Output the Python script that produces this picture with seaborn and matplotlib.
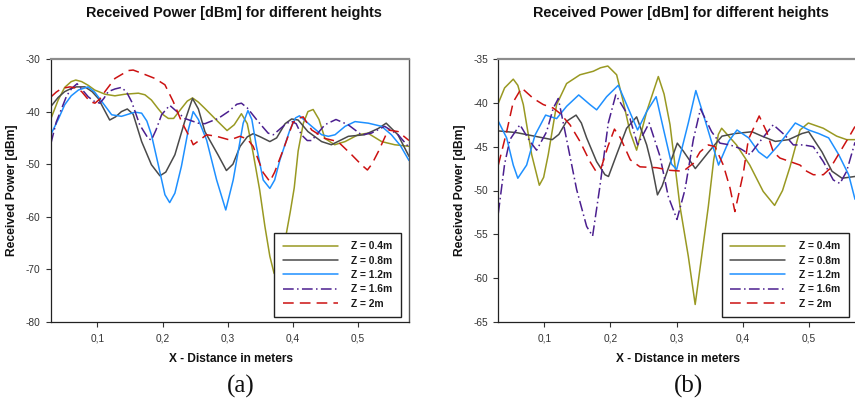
import matplotlib
matplotlib.use("Agg")
import matplotlib.pyplot as plt
from matplotlib.ticker import FuncFormatter, FixedLocator
import seaborn as sns
import pandas as pd

# ---------------- data: panel (a) ----------------
xa_04 = [0.029,0.040,0.050,0.060,0.067,0.076,0.086,0.096,0.112,0.127,0.142,0.163,0.173,0.183,0.193,0.201,0.209,0.217,0.229,0.238,0.246,0.255,0.265,0.285,0.299,0.310,0.321,0.330,0.339,0.349,0.357,0.3646,0.371,0.378,0.385,0.390,0.396,0.402,0.408,0.416,0.423,0.431,0.440,0.449,0.464,0.480,0.500,0.515,0.536,0.556,0.578]
ya_04 = [-41.3,-37.8,-35.4,-34.3,-34.0,-34.3,-35.0,-35.9,-36.7,-37.0,-36.7,-36.5,-36.8,-37.8,-39.4,-40.6,-41.3,-41.3,-39.4,-38.0,-37.4,-38.2,-39.4,-41.9,-43.6,-42.5,-40.4,-42.3,-47.9,-54.9,-61.8,-67.5,-70.7,-72.0,-68.0,-63.1,-59.0,-54.5,-47.5,-42.2,-40.0,-39.6,-41.5,-45.1,-46.3,-45.7,-44.4,-44.1,-45.7,-46.3,-46.6]

xa_08 = [0.029,0.040,0.050,0.060,0.068,0.081,0.092,0.1015,0.110,0.119,0.128,0.137,0.146,0.155,0.168,0.183,0.196,0.205,0.219,0.234,0.246,0.255,0.265,0.285,0.298,0.308,0.319,0.330,0.339,0.350,0.3646,0.375,0.388,0.398,0.408,0.423,0.444,0.459,0.485,0.510,0.531,0.543,0.561,0.578]
ya_08 = [-39.0,-37.3,-36.2,-35.6,-35.3,-35.3,-36.2,-37.5,-39.5,-41.6,-41.0,-40.0,-39.5,-40.5,-45.7,-50.1,-52.2,-51.5,-48.2,-41.9,-37.5,-39.5,-43.8,-48.2,-51.2,-50.0,-46.6,-44.8,-44.2,-44.8,-45.7,-45.0,-42.3,-41.4,-41.6,-43.8,-45.7,-46.3,-44.7,-44.4,-43.2,-42.2,-44.4,-48.5]

xa_12 = [0.029,0.040,0.050,0.060,0.071,0.086,0.096,0.107,0.122,0.137,0.150,0.158,0.168,0.176,0.183,0.1935,0.2037,0.211,0.219,0.229,0.2395,0.247,0.255,0.2676,0.283,0.297,0.3084,0.3237,0.331,0.337,0.344,0.3544,0.3646,0.372,0.380,0.3953,0.404,0.410,0.4288,0.444,0.4544,0.4646,0.480,0.4952,0.5156,0.536,0.551,0.565,0.578]
ya_12 = [-44.3,-41.5,-38.7,-37.0,-35.9,-35.3,-36.3,-38.1,-40.6,-40.9,-40.4,-40.1,-40.3,-41.8,-44.4,-50.1,-55.8,-57.3,-55.5,-50.4,-43.5,-40.0,-41.5,-45.4,-53.0,-58.7,-53.0,-42.2,-39.8,-41.5,-46.6,-53.0,-54.6,-53.0,-49.2,-43.5,-41.2,-40.8,-42.8,-44.4,-44.7,-44.4,-42.8,-41.9,-42.2,-42.8,-44.4,-46.5,-49.3]

xa_16 = [0.029,0.037,0.0453,0.053,0.0607,0.069,0.078,0.0862,0.096,0.104,0.110,0.1168,0.127,0.137,0.145,0.1526,0.165,0.178,0.183,0.190,0.1986,0.211,0.222,0.234,0.2548,0.265,0.2854,0.301,0.314,0.321,0.330,0.3467,0.362,0.370,0.3876,0.397,0.405,0.413,0.422,0.4288,0.449,0.466,0.4847,0.505,0.5202,0.5406,0.5613,0.578]
ya_16 = [-46.0,-42.0,-39.4,-37.0,-35.6,-34.7,-36.0,-37.2,-38.1,-38.4,-37.5,-36.2,-35.7,-35.4,-36.3,-38.1,-42.5,-45.1,-45.4,-43.5,-40.6,-38.8,-40.0,-41.3,-42.2,-42.3,-41.3,-40.0,-38.6,-38.4,-39.3,-41.9,-44.1,-44.4,-42.5,-41.8,-42.3,-44.4,-45.5,-45.5,-42.5,-41.5,-42.5,-44.4,-44.1,-42.8,-44.4,-46.8]

xa_20 = [0.029,0.037,0.0453,0.058,0.067,0.076,0.0888,0.0964,0.104,0.1117,0.127,0.1475,0.155,0.168,0.1884,0.2037,0.2165,0.2292,0.2446,0.2471,0.255,0.2676,0.283,0.3033,0.3187,0.330,0.339,0.3544,0.3646,0.372,0.385,0.400,0.408,0.4157,0.4288,0.449,0.469,0.490,0.505,0.5142,0.521,0.531,0.546,0.5613,0.578]
ya_20 = [-37.2,-36.3,-35.6,-35.3,-35.5,-36.2,-38.1,-38.4,-37.6,-36.2,-33.7,-32.2,-32.1,-32.7,-33.7,-34.9,-38.1,-41.9,-45.6,-46.3,-45.6,-44.4,-44.7,-45.4,-44.7,-45.2,-46.6,-51.6,-53.3,-51.5,-47.3,-42.1,-41.3,-41.0,-43.5,-45.1,-45.7,-48.2,-50.1,-51.1,-50.0,-47.6,-43.5,-43.8,-45.5]

# ---------------- data: panel (b) ----------------
xb_04 = [0.0305,0.040,0.0531,0.060,0.0683,0.0809,0.0925,0.099,0.106,0.1186,0.1337,0.1539,0.174,0.185,0.196,0.2093,0.2194,0.2295,0.2395,0.2547,0.2723,0.281,0.290,0.305,0.3176,0.328,0.3378,0.3479,0.356,0.363,0.368,0.3904,0.4105,0.4307,0.448,0.460,0.4713,0.4864,0.499,0.5216,0.5418,0.5569,0.5695]
yb_04 = [-40.05,-38.3,-37.3,-38.0,-40.2,-45.9,-49.4,-48.5,-45.9,-40.2,-37.8,-36.8,-36.4,-36.0,-35.8,-36.8,-39.9,-43.3,-45.4,-41.0,-37.0,-39.0,-42.5,-51.8,-57.5,-63.0,-57.5,-51.8,-46.5,-43.6,-42.9,-44.8,-47.1,-50.1,-51.7,-50.0,-47.3,-43.1,-42.3,-42.9,-43.8,-44.2,-44.2]

xb_08 = [0.0305,0.0582,0.0783,0.0985,0.112,0.122,0.1337,0.148,0.156,0.164,0.179,0.1917,0.197,0.2093,0.2244,0.2395,0.2547,0.262,0.271,0.278,0.290,0.301,0.310,0.3282,0.3484,0.3685,0.3886,0.4138,0.4289,0.4491,0.4692,0.4894,0.4995,0.5196,0.5347,0.5499,0.5695]
yb_08 = [-43.2,-43.4,-43.7,-44.0,-44.2,-43.6,-42.1,-41.4,-42.3,-44.0,-46.7,-48.2,-48.4,-45.9,-42.9,-41.6,-44.8,-47.0,-50.5,-49.5,-46.9,-44.6,-45.5,-47.5,-45.6,-43.8,-43.5,-43.3,-43.8,-44.4,-44.2,-43.5,-43.3,-45.6,-47.8,-48.6,-48.4]

xb_12 = [0.0305,0.0431,0.0531,0.060,0.0733,0.0859,0.1020,0.1186,0.1337,0.152,0.169,0.1791,0.1942,0.2118,0.2244,0.241,0.2547,0.269,0.2798,0.2924,0.300,0.3176,0.329,0.3434,0.3585,0.3633,0.3786,0.3912,0.4088,0.4239,0.4365,0.4541,0.4793,0.4995,0.5146,0.5297,0.5448,0.5599,0.5695]
yb_12 = [-42.1,-44.0,-47.1,-48.6,-47.1,-43.7,-41.4,-41.8,-40.4,-39.1,-40.2,-40.8,-39.3,-38.0,-40.2,-43.1,-41.0,-39.3,-42.9,-47.0,-47.6,-42.3,-38.6,-42.1,-45.9,-47.1,-44.4,-43.1,-44.0,-45.6,-46.3,-44.8,-42.3,-43.1,-43.5,-44.0,-45.9,-48.2,-51.0]

xb_16 = [0.0305,0.040,0.048,0.0632,0.0783,0.0884,0.1035,0.1136,0.1212,0.1338,0.1489,0.164,0.173,0.1841,0.1967,0.208,0.2295,0.241,0.2585,0.2748,0.2874,0.3005,0.3126,0.3252,0.336,0.3529,0.3655,0.3806,0.3957,0.4108,0.4259,0.446,0.4637,0.4763,0.4914,0.5065,0.5216,0.5367,0.5468,0.5569,0.5695]
yb_16 = [-52.6,-47.0,-44.2,-42.5,-44.4,-45.4,-43.3,-40.6,-39.5,-44.2,-49.9,-54.1,-55.2,-49.5,-42.3,-39.1,-41.8,-44.8,-42.3,-46.1,-50.7,-53.3,-49.9,-44.2,-40.7,-43.3,-44.6,-44.8,-45.2,-45.9,-44.4,-42.5,-43.7,-44.8,-44.8,-45.0,-46.7,-48.8,-49.2,-47.8,-44.5]

xb_20 = [0.0305,0.0431,0.0531,0.0657,0.0834,0.0985,0.1136,0.1237,0.1388,0.1539,0.169,0.178,0.186,0.196,0.206,0.215,0.230,0.2446,0.2698,0.290,0.310,0.3252,0.3353,0.3479,0.358,0.3705,0.3806,0.388,0.4008,0.4083,0.4247,0.436,0.446,0.4561,0.4713,0.4864,0.4965,0.5065,0.5216,0.5317,0.5468,0.5619,0.5695]
yb_20 = [-47.1,-43.3,-39.9,-38.3,-39.5,-40.2,-40.6,-41.2,-42.5,-44.4,-46.7,-47.8,-47.4,-45.0,-43.0,-44.0,-46.5,-47.3,-47.4,-47.7,-47.8,-46.9,-45.6,-44.8,-45.0,-47.1,-49.7,-52.4,-48.0,-44.2,-41.5,-43.3,-45.6,-46.3,-46.7,-47.1,-47.8,-48.2,-48.2,-47.5,-45.6,-43.7,-42.7]

labels = ["Z = 0.4m", "Z = 0.8m", "Z = 1.2m", "Z = 1.6m", "Z = 2m"]
x_ticks = [0.1, 0.2, 0.3, 0.4, 0.5]
ya_ticks = [-30, -40, -50, -60, -70, -80]
yb_ticks = [-35, -40, -45, -50, -55, -60, -65]
title_text = "Received Power [dBm] for different heights"
xlabel_text = "X - Distance in meters"
ylabel_text = "Received Power [dBm]"

colors = {"Z = 0.4m": "#999922", "Z = 0.8m": "#4a4a4a", "Z = 1.2m": "#1e90ff",
          "Z = 1.6m": "#4b1f8f", "Z = 2m": "#cc1111"}
dashes = {"Z = 0.4m": "", "Z = 0.8m": "", "Z = 1.2m": "",
          "Z = 1.6m": (7, 2.2, 1, 2.2), "Z = 2m": (7, 4)}


def long_df(xs, ys):
    frames = []
    for lab, x, y in zip(labels, xs, ys):
        frames.append(pd.DataFrame({"x": x, "y": y, "Z": lab}))
    return pd.concat(frames, ignore_index=True)


df_a = long_df([xa_04, xa_08, xa_12, xa_16, xa_20], [ya_04, ya_08, ya_12, ya_16, ya_20])
df_b = long_df([xb_04, xb_08, xb_12, xb_16, xb_20], [yb_04, yb_08, yb_12, yb_16, yb_20])

sns.set_style("white")
plt.rcParams["font.family"] = ["Liberation Sans", "DejaVu Sans"]

W, H = 855, 401
fig = plt.figure(figsize=(W / 100, H / 100), dpi=100)

ax_a = fig.add_axes([51 / W, (H - 322) / H, (409 - 51) / W, (322 - 59) / H])
ax_b = fig.add_axes([498.3 / W, (H - 322) / H, (W - 498.3) / W, (322 - 59) / H])


def draw(ax, df, xlim, ylim, yticks, legend_left, hide_right):
    sns.lineplot(data=df, x="x", y="y", hue="Z", style="Z", palette=colors,
                 dashes=dashes, hue_order=labels, style_order=labels,
                 errorbar=None, sort=False, linewidth=1.1, ax=ax, legend=False)
    ax.set_xlim(*xlim)
    ax.set_ylim(*ylim)
    ax.xaxis.set_major_locator(FixedLocator(x_ticks))
    ax.yaxis.set_major_locator(FixedLocator(yticks))
    ax.xaxis.set_major_formatter(FuncFormatter(lambda v, p: f"{v:.1f}".replace(".", ",")))
    ax.yaxis.set_major_formatter(FuncFormatter(lambda v, p: f"{int(round(v))}"))
    ax.tick_params(axis="both", which="major", direction="out", length=3.5, width=0.8,
                   labelsize=7.3, colors="#333333", pad=5, left=True, bottom=True)
    ax.tick_params(axis="y", pad=4)
    ax.set_xlabel("")
    ax.set_ylabel("")
    ax.grid(False)
    for side in ["left", "bottom"]:
        ax.spines[side].set_color("#222222")
        ax.spines[side].set_linewidth(0.9)
    ax.spines["top"].set_color("#8c8c8c")
    ax.spines["top"].set_linewidth(1.6)
    ax.spines["right"].set_color("#555555")
    ax.spines["right"].set_linewidth(1.0)
    ax.spines["right"].set_visible(not hide_right)

    handles = ax.get_lines()[:5]
    leg = ax.legend(handles, labels, loc="upper left",
                    bbox_to_anchor=(legend_left / W, (H - 232.7) / H),
                    bbox_transform=fig.transFigure, borderaxespad=0,
                    frameon=True, fancybox=False, framealpha=1, edgecolor="#222222",
                    prop={"size": 7.4, "weight": "bold"}, handlelength=5.35,
                    handletextpad=1.3, labelspacing=0.42, borderpad=0.85)
    leg.get_frame().set_linewidth(1.0)
    for t in leg.get_texts():
        t.set_color("#1a1a1a")
    leg.set_zorder(10)


draw(ax_a, df_a, (0.029, 0.578), (-80, -30), ya_ticks, 274.3, False)
draw(ax_b, df_b, (0.0305, 0.5695), (-65, -35), yb_ticks, 721.7, True)

for cx in (234, 681):
    fig.text(cx / W, (H - 13.5) / H, title_text, ha="center", va="center",
             fontsize=10.4, fontweight="bold", color="#111111")
for cx in (231, 678):
    fig.text(cx / W, (H - 359) / H, xlabel_text, ha="center", va="center",
             fontsize=8.6, fontweight="bold", color="#111111")
for cx in (12.5, 460):
    fig.text(cx / W, (H - 190) / H, ylabel_text, ha="center", va="center",
             rotation=90, fontsize=8.7, fontweight="bold", color="#111111")
for cx, lab in ((241, "(a)"), (688, "(b)")):
    fig.text(cx / W, (H - 386) / H, lab, ha="center", va="center",
             fontsize=18, family=["Liberation Serif", "DejaVu Serif"], color="#111111")

fig.savefig("out.png", dpi=100)
